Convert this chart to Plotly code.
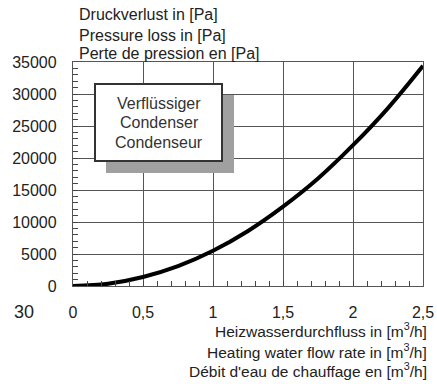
import plotly.graph_objects as go

flow = [0, 0.25, 0.5, 0.75, 1.0, 1.25, 1.5, 1.75, 2.0, 2.25, 2.5]
pressure = [0, 350, 1400, 3100, 5500, 8600, 12400, 16800, 22000, 27800, 34400]

y_title = ["Druckverlust in [Pa]", "Pressure loss in [Pa]", "Perte de pression en [Pa]"]
x_title = ["Heizwasserdurchfluss in [m<sup>3</sup>/h]",
           "Heating water flow rate in [m<sup>3</sup>/h]",
           "Débit d'eau de chauffage en [m<sup>3</sup>/h]"]
box_lines = ["Verflüssiger", "Condenser", "Condenseur"]

FONT = "Liberation Sans, Arial, sans-serif"
L, R, T, B = 73, 14, 62, 98
W, H = 437 - L - R, 384 - T - B


def px(x):
    return (x - L) / W


def py(y):
    return (384 - B - y) / H


fig = go.Figure()
fig.add_trace(go.Scatter(x=flow, y=pressure, mode="lines",
                         line=dict(color="black", width=4, shape="spline"),
                         hoverinfo="skip", showlegend=False))
# invisible copy to activate the overlay axes that carry the minor ticks
fig.add_trace(go.Scatter(x=flow, y=pressure, mode="lines", xaxis="x2", yaxis="y2",
                         line=dict(color="rgba(0,0,0,0)", width=0),
                         hoverinfo="skip", showlegend=False))

axis_common = dict(showgrid=True, gridcolor="#555", gridwidth=1.3, zeroline=False,
                   showline=True, linecolor="#555", linewidth=1.3, mirror=True,
                   ticks="", ticklabelstandoff=12,
                   automargin=False, tickfont=dict(size=16, color="#222"))
minor_common = dict(showgrid=False, zeroline=False, showline=False, showticklabels=False,
                    ticks="inside", ticklen=5, tickwidth=1.2, tickcolor="#444",
                    automargin=False, tickmode="linear", tick0=0)

fig.update_layout(
    width=437, height=384,
    margin=dict(l=L, r=R, t=T, b=B),
    paper_bgcolor="white", plot_bgcolor="white",
    separators=",.",
    font=dict(family=FONT, size=16, color="#222"),
    xaxis=dict(range=[0, 2.5], tickmode="linear", tick0=0, dtick=0.5, **axis_common),
    yaxis=dict(range=[0, 35000], tickmode="linear", tick0=0, dtick=5000, tickformat="d",
               **axis_common),
    xaxis2=dict(range=[0, 2.5], overlaying="x", side="bottom", anchor="y2", dtick=0.1,
                **minor_common),
    yaxis2=dict(range=[0, 35000], overlaying="y", side="left", anchor="x2", dtick=1000,
                **minor_common),
)

# Label box with shadow
fig.add_shape(type="rect", xref="paper", yref="paper", x0=px(106), x1=px(234), y0=py(173), y1=py(95),
              fillcolor="#a0a0a0", line=dict(width=0), layer="above")
fig.add_shape(type="rect", xref="paper", yref="paper", x0=px(95), x1=px(222), y0=py(161), y1=py(84),
              fillcolor="white", line=dict(color="#333", width=2), layer="above")
for t, yy in zip(box_lines, [103, 122, 142]):
    fig.add_annotation(x=px(159), y=py(yy), xref="paper", yref="paper", text=t,
                       showarrow=False, xanchor="center", yanchor="middle",
                       font=dict(size=16, color="#333"))

for t, yy in zip(y_title, [15, 35, 53]):
    fig.add_annotation(x=px(77), y=py(yy), xref="paper", yref="paper", text=t,
                       showarrow=False, xanchor="left", yanchor="middle",
                       font=dict(size=16, color="#222"))

for t, yy in zip(x_title, [330, 351, 370]):
    fig.add_annotation(x=px(429), y=py(yy), xref="paper", yref="paper", text=t,
                       showarrow=False, xanchor="right", yanchor="middle",
                       font=dict(size=15.5, color="#222"))

fig.add_annotation(x=px(24), y=py(312), xref="paper", yref="paper", text="30",
                   showarrow=False, xanchor="center", yanchor="middle",
                   font=dict(size=18, color="#222"))

fig.write_html("out.html")
